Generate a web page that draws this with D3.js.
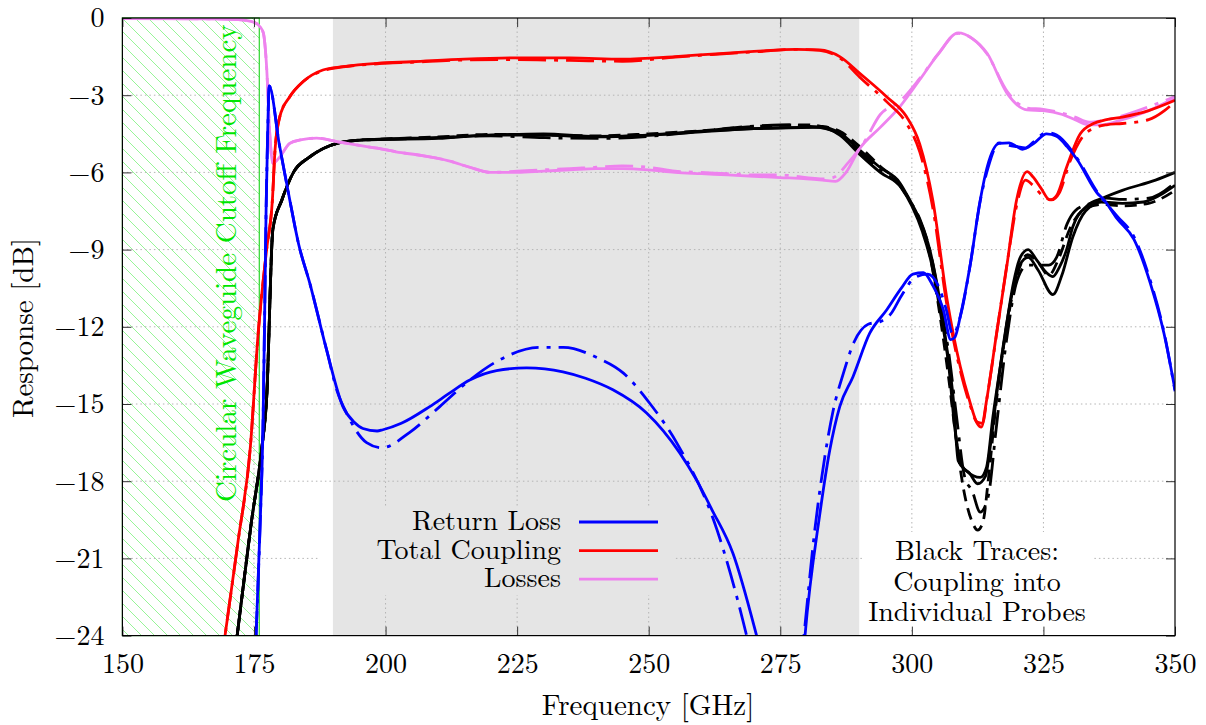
<!DOCTYPE html>
<html>
<head>
<meta charset="utf-8">
<script src="https://cdn.jsdelivr.net/npm/d3@7"></script>
<style>
  html, body { margin: 0; padding: 0; background: #fff; }
  svg { display: block; }
</style>
</head>
<body>
<svg id="chart" width="1206" height="725"></svg>
<script>
// ---------------- DATA ----------------
const xTicks = [150, 175, 200, 225, 250, 275, 300, 325, 350];
const yTicks = [0, -3, -6, -9, -12, -15, -18, -21, -24];
const bandRange = [190, 290];          // shaded design band [GHz]
const cutoffRange = [150, 176];        // below circular waveguide cutoff
const legendLabels = ["Return Loss", "Total Coupling", "Losses"];
const noteLines = ["Black Traces:", "Coupling into", "Individual Probes"];

// Return loss (blue), solid
const returnLossA = [[175.0,-26],[175.4,-24],[176.2,-19.5],[176.7,-16],[177.0,-12],[177.3,-7.5],[177.6,-4.5],[177.9,-2.64],
  [179.8,-4.9],[181.8,-7.07],[183.5,-8.8],[185.6,-10.3],[188.8,-12.9],[191.9,-15.1],[194,-15.7],[195.7,-15.95],[198.4,-16.05],
  [199.5,-16.0],[203,-15.75],[208.4,-15.1],[212,-14.6],[216,-14.07],[221.1,-13.7],[226.8,-13.6],[233.7,-13.75],[238,-14.0],
  [243.2,-14.45],[249.6,-15.35],[255.9,-16.9],[259.1,-17.96],[262,-19.1],[266,-20.8],[270.5,-24],[272,-25.2],
  [279.3,-25],[279.7,-24],[282.5,-19.3],[284.4,-16.8],[286.3,-15.1],[288.8,-13.95],[292,-12.25],[295.2,-11.35],[298,-10.5],
  [300.2,-9.95],[302.2,-9.9],[304,-10.4],[306,-11.35],[307.4,-12.5],[308.2,-12.4],[309.2,-11.6],[311,-9.7],[313,-7.07],
  [314.3,-5.8],[316.6,-4.87],[318.5,-4.85],[320,-5.0],[321,-5.1],[323.2,-4.87],[325.6,-4.5],[327.5,-4.6],[329.5,-5.0],
  [331.4,-5.5],[335.2,-6.8],[336.5,-7.07],[339,-7.8],[342.2,-8.6],[345.3,-10.3],[347.9,-12.25],[350,-14.45]];
// Return loss (blue), dash-dot
const returnLossB = [[175.0,-26],[175.4,-24],[176.2,-19.5],[176.7,-16],[177.0,-12],[177.3,-7.5],[177.6,-4.5],[177.9,-2.64],
  [179.8,-4.9],[181.8,-7.07],[183.5,-8.8],[185.6,-10.3],[188.8,-12.9],[190.8,-14.5],[192.7,-15.4],[196.4,-16.5],[199.3,-16.7],
  [204.6,-16.1],[210.3,-15.1],[216,-14.07],[221.1,-13.35],[229.4,-12.8],[233.8,-12.8],[240.2,-13.2],[245.2,-13.8],
  [250.3,-15.0],[255.3,-16.5],[263,-19.9],[268,-23.5],[268.6,-24],[270,-25.2],
  [279.0,-25],[279.5,-24],[281.5,-20],[283.5,-17],[285,-15.3],[287,-13.8],[289,-12.6],[291.7,-11.9],[294,-11.8],[296,-11.5],
  [298,-10.8],[300.5,-10.1],[303,-9.95],[305,-10.4],[306.5,-11.3],[307.8,-12.3],[309.2,-11.6],[311,-9.7],[313,-7.1],
  [314.5,-5.8],[316.6,-4.85],[318.5,-4.95],[320,-5.0],[321.5,-5.05],[323.2,-4.8],[325.6,-4.45],[327.5,-4.55],[331.4,-5.45],
  [335.2,-6.75],[339,-7.7],[342.2,-8.5],[345.3,-10.2],[347.9,-12.2],[350,-14.5]];

// Total coupling (red), solid
const couplingA = [[165,-30.8],[169.5,-24],[172,-20.3],[174.3,-16.7],[175.8,-12.25],[177.4,-9.0],[178.5,-7.07],[179,-5.13],
  [179.9,-3.84],[181.8,-3.06],[184.3,-2.48],[188.1,-2.02],[191.9,-1.89],[198.4,-1.76],[205,-1.7],[215,-1.6],[225,-1.55],
  [235,-1.55],[245,-1.6],[255,-1.5],[262,-1.4],[270,-1.3],[278,-1.22],[282.5,-1.24],[286.3,-1.5],[290.1,-2.15],[295.2,-3.06],
  [299,-3.84],[301.5,-4.9],[304,-7.1],[306.7,-10.96],[309.2,-13.55],[311,-14.9],[312.4,-15.75],[313.2,-15.9],[314.2,-14.85],
  [316.1,-12.25],[318,-9.7],[319.9,-7.07],[321.9,-5.97],[323,-6.17],[324.5,-6.6],[326.2,-7.07],[327.5,-6.9],[329.4,-5.8],
  [332,-4.5],[334.5,-4.1],[337,-3.95],[340,-3.85],[345,-3.6],[350,-3.2]];
// Total coupling (red), dash-dot
const couplingB = [[165,-30.8],[169.5,-24],[172,-20.3],[174.3,-16.7],[175.8,-12.25],[177.4,-9.0],[178.5,-7.07],[179,-5.13],
  [179.9,-3.84],[181.8,-3.06],[184.3,-2.48],[188.1,-2.05],[191.9,-1.9],[198.4,-1.78],[205,-1.72],[215,-1.63],[225,-1.62],
  [235,-1.65],[245,-1.68],[255,-1.52],[262,-1.42],[270,-1.32],[278,-1.22],[282.5,-1.26],[286.3,-1.55],[290.1,-2.3],[295.2,-3.25],
  [299,-4.1],[301.5,-5.2],[304,-7.4],[306.7,-11.2],[309.2,-13.7],[311,-15.0],[312.4,-15.7],[313.4,-15.75],[314.4,-14.6],
  [316.3,-12.0],[318.2,-9.4],[320,-7.2],[321.6,-6.3],[323,-6.5],[324.8,-6.9],[326.5,-7.07],[328,-6.8],[330,-5.6],
  [332.5,-4.6],[335,-4.25],[337,-4.15],[340,-4.1],[345,-3.95],[348,-3.6],[350,-3.25]];

// Losses (violet), solid
const lossesA = [[150,-0.02],[165,-0.03],[172,-0.06],[174.8,-0.15],[176.2,-0.35],[176.8,-0.6],[177.4,-1.9],[178.0,-4.5],
  [178.6,-5.65],[179.9,-5.4],[181.8,-4.87],[183.8,-4.74],[186.9,-4.67],[190.7,-4.8],[195,-4.95],[198.4,-5.06],[202,-5.2],
  [207,-5.35],[212,-5.55],[216,-5.8],[220,-6.0],[225,-6.0],[230,-5.95],[235,-5.9],[240,-5.85],[245,-5.85],[250,-5.9],
  [255,-6.0],[260,-6.05],[265,-6.1],[270,-6.15],[275,-6.2],[280,-6.25],[283,-6.3],[285.5,-6.35],[287.5,-6.0],[290,-5.1],
  [294,-4.25],[297.7,-3.45],[301.5,-2.4],[305,-1.4],[308.8,-0.58],[311.5,-0.8],[314.3,-1.37],[318.1,-2.93],[321.9,-3.57],
  [325,-3.6],[328.6,-3.75],[331,-3.95],[333.7,-4.15],[336,-4.15],[340,-3.95],[345,-3.6],[350,-3.1]];
// Losses (violet), dash-dot
const lossesB = [[150,-0.02],[165,-0.03],[172,-0.06],[174.8,-0.15],[176.2,-0.35],[176.8,-0.6],[177.4,-1.9],[178.0,-4.5],
  [178.6,-5.65],[179.9,-5.4],[181.8,-4.87],[183.8,-4.74],[186.9,-4.67],[190.7,-4.8],[195,-4.95],[198.4,-5.06],[202,-5.2],
  [207,-5.35],[212,-5.55],[216,-5.8],[220,-6.0],[225,-5.95],[230,-5.9],[235,-5.85],[240,-5.8],[245,-5.75],[250,-5.8],
  [255,-5.95],[260,-6.0],[265,-6.05],[270,-6.1],[275,-6.1],[280,-6.2],[283,-6.25],[285,-6.2],[288,-5.6],[291,-4.8],
  [294,-3.75],[297.7,-3.25],[301.5,-2.35],[305,-1.4],[308.8,-0.6],[311.5,-0.8],[314.3,-1.4],[318.1,-2.85],[321.9,-3.5],
  [325,-3.55],[328.6,-3.7],[331,-3.85],[333.7,-4.05],[336,-4.0],[340,-3.8],[345,-3.45],[350,-3.05]];

// Coupling into individual probes (black)
const probeA = [[168,-30],[171.8,-24],[174.5,-19.6],[176.5,-16.7],[177.4,-14.8],[178.6,-8.2],[180.3,-7.07],[182.5,-6.0],
  [185.6,-5.4],[190.8,-4.87],[195.7,-4.74],[200,-4.7],[210,-4.65],[220,-4.55],[230,-4.5],[240,-4.6],[250,-4.55],[260,-4.4],
  [270,-4.3],[280,-4.25],[282.5,-4.23],[286.3,-4.47],[290.1,-5.13],[293.9,-5.8],[297.7,-6.4],[299.6,-7.07],[301.5,-7.85],
  [303.4,-9.0],[305.3,-10.96],[306.7,-12.9],[307.9,-14.85],[308.8,-17.2],[310.4,-17.6],[313,-17.85],[314.2,-17.45],
  [315.4,-15.5],[317.3,-12.9],[319.3,-10.3],[320.6,-9.3],[322.1,-9.0],[323.7,-9.4],[325.6,-9.9],[326.8,-10.05],[328,-9.7],
  [329.4,-9.0],[330.6,-8.1],[333.3,-7.3],[336.3,-7.0],[340,-6.7],[346.3,-6.3],[350,-6.0]];
const probeB = [[168,-30],[171.8,-24],[174.5,-19.6],[176.5,-16.7],[177.4,-14.8],[178.6,-8.2],[180.3,-7.07],[182.5,-6.0],
  [185.6,-5.4],[190.8,-4.87],[195.7,-4.74],[200,-4.72],[210,-4.68],[220,-4.55],[230,-4.55],[240,-4.62],[250,-4.55],[260,-4.42],
  [270,-4.3],[280,-4.25],[282.5,-4.25],[286.3,-4.55],[290.1,-5.3],[294,-6.0],[298,-6.6],[300,-7.3],[302,-8.3],[303.8,-9.6],
  [305.3,-11.3],[307,-13.5],[308.2,-16],[309.5,-17.4],[311,-17.7],[312.5,-18.1],[314,-17.8],[315,-16.5],[316.5,-14],
  [318.5,-11.3],[320.5,-9.6],[322.1,-9.3],[324,-9.8],[326.8,-10.75],[328.5,-10.0],[330.6,-8.5],[333,-7.5],[336,-7.15],
  [340,-7.2],[344,-7.15],[347,-6.9],[350,-6.5]];
const probeC = [[168,-30],[171.8,-24],[174.5,-19.6],[176.5,-16.7],[177.4,-14.8],[178.6,-8.2],[180.3,-7.07],[182.5,-6.0],
  [185.6,-5.4],[190.8,-4.87],[195.7,-4.74],[200,-4.7],[210,-4.62],[220,-4.52],[230,-4.55],[240,-4.58],[250,-4.5],[260,-4.38],
  [270,-4.22],[280,-4.15],[282.5,-4.2],[286.3,-4.4],[290.1,-5.0],[293.9,-5.75],[297.7,-6.45],[299.6,-7.1],[301.5,-7.9],
  [303.4,-9.2],[305.3,-11.5],[307,-14],[308.5,-16.5],[310,-18.5],[311.5,-19.6],[312.5,-19.9],[313.5,-19.6],[314.5,-18],
  [316,-15],[318,-12],[320,-10],[322,-9.2],[324,-9.5],[326,-10],[328,-9.3],[330,-8.2],[333,-7.4],[336,-7.25],[340,-7.3],
  [345,-7.2],[350,-6.7]];
const probeD = [[168,-30],[171.8,-24],[174.5,-19.6],[176.5,-16.7],[177.4,-14.8],[178.6,-8.2],[180.3,-7.07],[182.5,-6.0],
  [185.6,-5.4],[190.8,-4.87],[195.7,-4.74],[200,-4.72],[210,-4.65],[220,-4.58],[230,-4.65],[240,-4.68],[250,-4.6],[260,-4.4],
  [270,-4.2],[275,-4.15],[280,-4.2],[282.5,-4.25],[286.3,-4.5],[290.1,-5.2],[293.9,-5.9],[297.7,-6.5],[299.6,-7.1],
  [301.5,-7.8],[303.4,-9.0],[305.3,-11.0],[307,-13],[308.5,-15.5],[310,-17.8],[311.5,-18.4],[313,-19.2],[314.5,-18.6],
  [316,-16],[318,-12.5],[320,-10.2],[322,-9.6],[324,-9.6],[326,-9.6],[327.5,-9.3],[329.5,-8.0],[331,-7.5],[334,-7.2],
  [337,-7.0],[340,-7.05],[345,-7.0],[350,-6.4]];

// ---------------- CHART ----------------
const FONT = '"Latin Modern Roman", "Liberation Serif", serif';
const W = 1206, H = 725;
const L = 122.4, R = 1175, T = 18, B = 635.6;
const svg = d3.select("#chart");
const x = d3.scaleLinear().domain([150, 350]).range([L, R]);
const y = d3.scaleLinear().domain([-24, 0]).range([B, T]);

const defs = svg.append("defs");
defs.append("clipPath").attr("id", "plotClip")
  .append("rect").attr("x", L).attr("y", T).attr("width", R - L).attr("height", B - T);

const pat = defs.append("pattern").attr("id", "hatch").attr("patternUnits", "userSpaceOnUse")
  .attr("width", 13).attr("height", 13);
pat.append("path").attr("d", "M-1,-1 L14,14 M-14,0 L13,27 M0,-14 L27,13")
  .attr("stroke", "#7cf27c").attr("stroke-width", 0.8).attr("fill", "none");

// mask that knocks grid lines out behind the legend and the note
const mask = defs.append("mask").attr("id", "gridMask").attr("maskUnits", "userSpaceOnUse")
  .attr("x", 0).attr("y", 0).attr("width", W).attr("height", H);
mask.append("rect").attr("x", 0).attr("y", 0).attr("width", W).attr("height", H).attr("fill", "#fff");
mask.append("rect").attr("x", 318).attr("y", 507).attr("width", 357).attr("height", 88).attr("fill", "#000");
mask.append("rect").attr("x", 862).attr("y", 532).attr("width", 230).attr("height", 96).attr("fill", "#000");

// background band
svg.append("rect").attr("x", x(bandRange[0])).attr("y", T)
  .attr("width", x(bandRange[1]) - x(bandRange[0])).attr("height", B - T).attr("fill", "#e5e5e5");

// hatched cutoff region
svg.append("rect").attr("x", x(cutoffRange[0])).attr("y", T)
  .attr("width", x(cutoffRange[1]) - x(cutoffRange[0])).attr("height", B - T)
  .attr("fill", "url(#hatch)").attr("stroke", "#00cc00").attr("stroke-width", 1);

// grid
const grid = svg.append("g").attr("mask", "url(#gridMask)")
  .attr("stroke", "#b4b4b4").attr("stroke-width", 1).attr("stroke-dasharray", "1.5,3").attr("fill", "none");
grid.selectAll(".gx").data(xTicks.slice(1, -1)).enter().append("line")
  .attr("x1", d => x(d)).attr("x2", d => x(d)).attr("y1", T).attr("y2", B);
grid.selectAll(".gy").data(yTicks.slice(1, -1)).enter().append("line")
  .attr("y1", d => y(d)).attr("y2", d => y(d)).attr("x1", L).attr("x2", R);

// cutoff label
svg.append("text").text("Circular Waveguide Cutoff Frequency")
  .attr("transform", `translate(236,502) rotate(-90)`)
  .style("font-family", FONT).style("font-size", "29px").style("fill", "#00e600");

// series
const line = d3.line().x(d => x(d[0])).y(d => y(d[1])).curve(d3.curveMonotoneX);
const DASHDOT = "28,8,4,8", DASHED = "12,7";
const series = [
  { data: probeA, color: "#000", dash: null },
  { data: probeB, color: "#000", dash: null },
  { data: probeC, color: "#000", dash: DASHED },
  { data: probeD, color: "#000", dash: DASHDOT },
  { data: lossesB, color: "#ee82ee", dash: DASHDOT },
  { data: lossesA, color: "#ee82ee", dash: null },
  { data: couplingB, color: "#ff0000", dash: DASHDOT },
  { data: couplingA, color: "#ff0000", dash: null },
  { data: returnLossB, color: "#0000ff", dash: DASHDOT },
  { data: returnLossA, color: "#0000ff", dash: null },
];
const plot = svg.append("g").attr("clip-path", "url(#plotClip)");
plot.selectAll("path.s").data(series).enter().append("path")
  .attr("d", d => line(d.data))
  .attr("fill", "none").attr("stroke", d => d.color).attr("stroke-width", 2.8)
  .attr("stroke-linejoin", "round")
  .attr("stroke-dasharray", d => d.dash);

// legend
const legendColors = ["#0000ff", "#ff0000", "#ee82ee"];
const lg = svg.append("g");
legendLabels.forEach((lab, i) => {
  lg.append("text").text(lab).attr("x", 561).attr("y", 530 + i * 28.6)
    .attr("text-anchor", "end").style("font-family", FONT).style("font-size", "28px");
  lg.append("line").attr("x1", 579).attr("x2", 658)
    .attr("y1", 522 + i * 28.6).attr("y2", 522 + i * 28.6)
    .attr("stroke", legendColors[i]).attr("stroke-width", 2.8);
});

// note
noteLines.forEach((t, i) => {
  svg.append("text").text(t).attr("x", 977).attr("y", 560 + i * 30.5)
    .attr("text-anchor", "middle").style("font-family", FONT).style("font-size", "28px");
});

// axes
function styleAxis(g) {
  g.select(".domain").remove();
  g.selectAll(".tick line").attr("stroke", "#333").attr("stroke-width", 1);
  g.selectAll(".tick text").style("font-size", "28px").style("font-family", FONT).attr("fill", "#000");
}
svg.append("g").attr("transform", `translate(0,${B})`)
  .call(d3.axisBottom(x).tickValues(xTicks).tickSize(-9).tickPadding(18).tickFormat(d3.format("d")))
  .call(styleAxis);
svg.append("g").attr("transform", `translate(0,${T})`)
  .call(d3.axisTop(x).tickValues(xTicks).tickSize(-9).tickFormat(""))
  .call(styleAxis);
svg.append("g").attr("transform", `translate(${L},0)`)
  .call(d3.axisLeft(y).tickValues(yTicks).tickSize(-9).tickPadding(18).tickFormat(d3.format("d")))
  .call(styleAxis);
svg.append("g").attr("transform", `translate(${R},0)`)
  .call(d3.axisRight(y).tickValues(yTicks).tickSize(-9).tickFormat(""))
  .call(styleAxis);

// frame
svg.append("rect").attr("x", L).attr("y", T).attr("width", R - L).attr("height", B - T)
  .attr("fill", "none").attr("stroke", "#000").attr("stroke-width", 1.2);

// axis titles
svg.append("text").text("Frequency [GHz]").attr("x", 648).attr("y", 715)
  .attr("text-anchor", "middle").style("font-family", FONT).style("font-size", "29px");
svg.append("text").text("Response [dB]")
  .attr("transform", `translate(33,328) rotate(-90)`)
  .attr("text-anchor", "middle").style("font-family", FONT).style("font-size", "29px");
</script>
</body>
</html>
